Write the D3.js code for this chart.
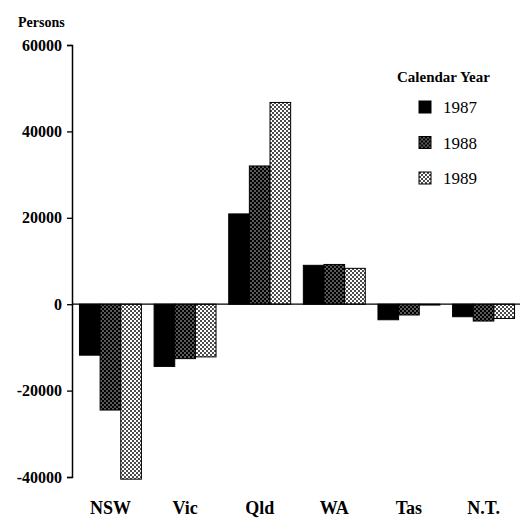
<!DOCTYPE html>
<html>
<head>
<meta charset="utf-8">
<script src="https://cdn.jsdelivr.net/npm/d3@7"></script>
<style>
  body { margin: 0; background: #fff; }
  text { font-family: "Liberation Serif", "DejaVu Serif", serif; fill: #000; }
</style>
</head>
<body>
<div id="chart"></div>
<script>
var states = ["NSW", "Vic", "Qld", "WA", "Tas", "N.T."];
var years = ["1987", "1988", "1989"];
var values1987 = [-11800, -14400, 20900, 9000, -3600, -2900];
var values1988 = [-24500, -12600, 32000, 9200, -2500, -3900];
var values1989 = [-40500, -12200, 46700, 8300, -200, -3300];
var yTicks = [-40000, -20000, 0, 20000, 40000, 60000];

var series = [values1987, values1988, values1989];
var data = [];
states.forEach(function(s, i) {
    years.forEach(function(y, j) {
        data.push({ state: s, year: y, value: series[j][i] });
    });
});

var width = 531, height = 531;
var svg = d3.select("#chart")
    .append("svg")
        .attr("width", width)
        .attr("height", height);

// fill patterns for the three years
var defs = svg.append("defs");
var p88 = defs.append("pattern")
    .attr("id", "pat1988")
    .attr("patternUnits", "userSpaceOnUse")
    .attr("width", 4).attr("height", 4);
p88.append("rect").attr("width", 4).attr("height", 4).attr("fill", "#000");
p88.append("circle").attr("cx", 1).attr("cy", 1).attr("r", 0.65).attr("fill", "#fff");
p88.append("circle").attr("cx", 3).attr("cy", 3).attr("r", 0.65).attr("fill", "#fff");

var p89 = defs.append("pattern")
    .attr("id", "pat1989")
    .attr("patternUnits", "userSpaceOnUse")
    .attr("width", 4).attr("height", 4);
p89.append("rect").attr("width", 4).attr("height", 4).attr("fill", "#fff");
p89.append("circle").attr("cx", 1).attr("cy", 1).attr("r", 0.95).attr("fill", "#000");
p89.append("circle").attr("cx", 3).attr("cy", 3).attr("r", 0.95).attr("fill", "#000");

var fills = { "1987": "#000", "1988": "url(#pat1988)", "1989": "url(#pat1989)" };

var x0 = d3.scaleBand()
    .domain(states)
    .range([72, 522])
    .paddingInner(0.17)
    .paddingOuter(0.1);
var x1 = d3.scaleBand()
    .domain(years)
    .range([0, x0.bandwidth()]);
var y = d3.scaleLinear()
    .domain([-40000, 60000])
    .range([477, 45]);

// bars
svg.append("g")
    .selectAll("rect")
    .data(data)
    .enter()
    .append("rect")
        .attr("x", function(d) { return x0(d.state) + x1(d.year); })
        .attr("y", function(d) { return y(Math.max(0, d.value)); })
        .attr("width", x1.bandwidth())
        .attr("height", function(d) { return Math.abs(y(d.value) - y(0)); })
        .attr("fill", function(d) { return fills[d.year]; })
        .attr("stroke", "#000")
        .attr("stroke-width", 1);

// zero line
svg.append("line")
    .attr("x1", 72).attr("x2", 520)
    .attr("y1", y(0)).attr("y2", y(0))
    .attr("stroke", "#000")
    .attr("stroke-width", 1.3);

// y axis
var yAxisCall = d3.axisLeft(y)
    .tickValues(yTicks)
    .tickSize(5)
    .tickPadding(5)
    .tickFormat(function(d) { return d; });
var yAxis = svg.append("g")
    .attr("transform", "translate(72,0)")
    .call(yAxisCall);
yAxis.select(".domain").attr("stroke-width", 1.5);
yAxis.selectAll(".tick line").attr("stroke-width", 1.3);
yAxis.selectAll("text")
    .attr("font-family", "Liberation Serif")
    .attr("font-size", "16px")
    .attr("font-weight", "bold");

// category labels
svg.append("g")
    .selectAll("text")
    .data(states)
    .enter()
    .append("text")
        .attr("x", function(d) { return x0(d) + x0.bandwidth() / 2; })
        .attr("y", 514)
        .attr("text-anchor", "middle")
        .attr("font-size", "18px")
        .attr("font-weight", "bold")
        .text(function(d) { return d; });

svg.append("text")
    .attr("x", 18)
    .attr("y", 27)
    .attr("font-size", "14px")
    .attr("font-weight", "bold")
    .text("Persons");

// legend
svg.append("text")
    .attr("x", 397)
    .attr("y", 82)
    .attr("font-size", "15px")
    .attr("font-weight", "bold")
    .text("Calendar Year");

var legend = svg.append("g")
    .selectAll("g")
    .data(years)
    .enter()
    .append("g")
        .attr("transform", function(d, i) { return "translate(419," + (101 + i * 35.5) + ")"; });
legend.append("rect")
    .attr("width", 12)
    .attr("height", 12)
    .attr("fill", function(d) { return fills[d]; })
    .attr("stroke", "#000")
    .attr("stroke-width", 1);
legend.append("text")
    .attr("x", 24)
    .attr("y", 12)
    .attr("font-size", "17px")
    .text(function(d) { return d; });
</script>
</body>
</html>
